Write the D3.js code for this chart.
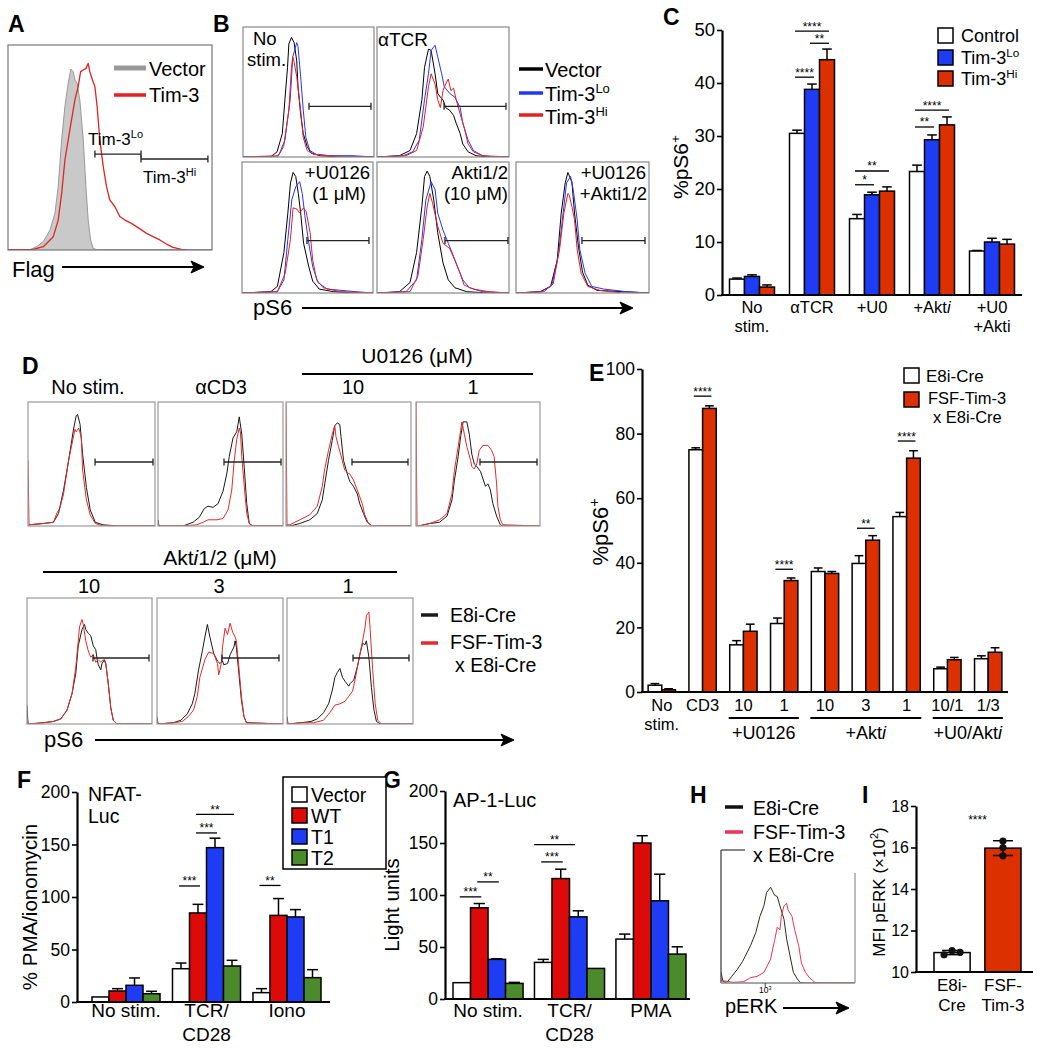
<!DOCTYPE html>
<html><head><meta charset="utf-8">
<script src="https://cdn.jsdelivr.net/npm/d3@7"></script>
<style>
body{margin:0;background:#fff}
svg{display:block}
text{font-family:"Liberation Sans",Arial,Helvetica,sans-serif;fill:#000}
</style></head><body>
<svg id="fig" width="1038" height="1050"></svg>
<script>
// ================= DATA =================
// Histograms: [channel position 0-100, relative count 0-100]
const histA_vector=[[0,0.2],[10.8,0.2],[14,1.6],[17.3,4.1],[20.6,9.8],[23,17.9],[24.6,30.9],[26.3,53.7],[27.9,70],[29.5,81.3],[30.8,88.3],[32,87],[32.8,82.9],[33.9,81.3],[35.2,73.2],[36.9,53.7],[38.2,30.9],[39.3,14.6],[40.5,4.9],[41.8,0.8],[43.4,0.2],[100,0.2]];
const histA_tim3=[[0,0.2],[12.4,0.3],[17.3,1.6],[22.2,6.5],[24.6,14.6],[26.3,27.6],[27.9,43.9],[30.3,58.5],[32.8,73.2],[34.4,79.7],[35.6,87],[36.9,87.8],[38.2,88.6],[39.3,91],[40.1,87],[41.4,82.9],[42.6,79.7],[43.7,69.9],[45,53.7],[46.7,40.7],[48.3,30.9],[49.9,24.4],[52.4,21.1],[54.8,16.3],[57.3,14.6],[60.5,13],[63,11.4],[65.4,9.8],[67.9,8.1],[71.1,6.5],[74.4,4.9],[77.7,2.9],[80.9,1.3],[85,0.3],[87.4,0]];
const gatesA=[[42.6,65.2,46.8],[65.2,98,44.4]];

const histB_vector=[
 [[0,0],[21,0],[26,4],[30,18],[32,44],[34,69],[35,87],[37,92],[39,88],[41,74],[42,54],[44,33],[46,18],[49,8],[52,3],[59,1],[74,0],[100,0]],
 [[0,0],[17,1],[25,5],[30,18],[34,44],[36,69],[39,83],[41,82],[44,64],[46,49],[48,46],[50,44],[52,38],[55,36],[58,32],[60,26],[63,18],[65,10],[69,4],[75,1],[85,0],[100,0]],
 [[0,0],[22,1],[27,5],[32,31],[35,61],[37,84],[39,92],[41,89],[43,76],[45,59],[47,38],[51,20],[54,9],[59,3],[70,1],[87,0],[100,0]],
 [[0,0],[17,1],[25,8],[30,31],[34,66],[36,89],[38,93],[40,89],[43,71],[46,46],[50,23],[54,10],[59,4],[68,1],[85,0],[100,0]],
 [[0,0],[18,1],[26,5],[31,25],[34,61],[37,84],[39,92],[42,85],[44,61],[47,35],[50,16],[54,6],[61,2],[81,1],[100,0]]];
const histB_lo=[
 [[0,0],[26,0],[28,3],[32,13],[36,44],[38,77],[41,88],[42,85],[44,62],[46,36],[48,15],[51,5],[56,2],[66,1],[84,1],[100,0]],
 [[0,0],[20,1],[27,4],[32,13],[36,44],[39,64],[41,82],[44,86],[46,77],[49,64],[51,54],[55,49],[59,46],[63,38],[65,26],[69,13],[73,5],[80,1],[90,0],[100,0]],
 [[0,0],[27,1],[32,10],[35,41],[38,71],[41,81],[44,85],[46,76],[48,59],[51,38],[54,20],[58,8],[65,3],[87,1],[100,0]],
 [[0,0],[22,1],[30,10],[34,41],[37,71],[41,85],[44,79],[46,61],[50,48],[54,38],[58,28],[61,20],[65,10],[70,4],[80,1],[100,0]],
 [[0,0],[19,1],[27,6],[32,30],[36,66],[38,84],[41,89],[43,79],[46,56],[48,33],[52,15],[57,5],[66,3],[83,1],[100,0]]];
const histB_hi=[
 [[0,0],[27,1],[31,8],[35,36],[37,69],[38,77],[39,73],[41,62],[44,36],[46,15],[49,5],[54,2],[66,1],[80,0],[100,0]],
 [[0,0],[22,1],[30,5],[35,23],[39,54],[41,64],[44,56],[46,44],[48,38],[50,51],[52,56],[54,60],[56,51],[58,53],[60,44],[63,33],[66,23],[69,10],[73,4],[80,1],[100,0]],
 [[0,0],[27,1],[33,15],[37,41],[39,65],[42,64],[44,61],[47,65],[49,62],[52,46],[54,25],[57,10],[62,4],[75,1],[100,0]],
 [[0,0],[25,1],[31,13],[35,41],[38,66],[40,76],[42,69],[46,51],[50,38],[55,34],[59,25],[63,15],[66,6],[73,3],[85,1],[100,0]],
 [[0,0],[21,1],[28,7],[33,35],[36,61],[39,76],[40,75],[42,66],[44,56],[46,33],[49,15],[54,5],[63,2],[80,0],[100,0]]];
const gatesB=[[50.4,97.7,39],[50.8,97.7,39],[49.6,96.9,40],[51.5,99.2,40],[49.6,97,40]];

const histD_e8i=[
 [[0,0],[1,1],[12,2],[20,3],[24,10],[28,29],[32,53],[34,66],[36,79],[38,89],[39,90],[41,82],[43,58],[46,31],[49,13],[53,3],[59,1],[70,0],[100,0]],
 [[0,5],[0.8,0],[20,0],[28,3],[33,7],[37,14],[40,16],[44,15],[48,18],[52,28],[55,42],[57,56],[60,71],[63,76],[65,88],[67,74],[69,47],[71,18],[73,2],[76,0],[100,0]],
 [[0,0],[3,0],[11,2],[19,5],[25,10],[29,21],[31,34],[34,53],[37,69],[39,81],[41,83],[43,82],[44,72],[46,53],[49,42],[51,36],[54,32],[57,26],[59,18],[62,10],[65,3],[69,0],[100,0]],
 [[0,0],[2,0],[11,2],[19,3],[25,8],[29,21],[31,37],[34,56],[36,72],[38,84],[41,84],[43,74],[45,58],[47,50],[49,48],[52,44],[54,38],[56,32],[58,34],[60,29],[62,18],[65,8],[68,1],[70,0],[100,0]],
 [[0,15],[0.8,0],[13,1],[21,2],[27,4],[32,11],[36,24],[39,40],[41,62],[44,75],[46,79],[47,75],[49,72],[51,70],[53,62],[55,59],[56,52],[57,47],[59,43],[60,48],[62,51],[63,48],[65,32],[67,13],[69,3],[72,0],[100,0]],
 [[0,6],[0.8,0],[13,1],[19,3],[24,8],[28,16],[30,24],[33,43],[36,58],[38,69],[40,79],[42,69],[45,56],[48,50],[50,48],[52,50],[53,47],[56,48],[58,55],[61,61],[62,66],[63,61],[65,40],[67,19],[69,6],[71,1],[100,0]],
 [[0,6],[0.8,0],[11,1],[19,2],[24,4],[29,9],[33,16],[36,27],[38,37],[40,41],[42,44],[44,37],[46,34],[49,30],[50,32],[52,34],[53,35],[56,46],[58,56],[60,64],[62,63],[63,66],[65,53],[67,29],[69,11],[71,2],[74,0],[100,0]]];
const histD_fsf=[
 [[0,53],[0.8,1],[12,2],[20,3],[23,11],[25,14],[28,26],[32,53],[34,63],[37,78],[38,76],[40,79],[42,71],[43,45],[46,21],[49,9],[53,2],[59,0],[100,0]],
 [[0,0],[20,0],[31,1],[36,3],[40,5],[47,5],[52,6],[56,13],[59,29],[61,53],[63,70],[65,79],[66,75],[67,56],[69,32],[71,10],[73,2],[76,0],[100,0]],
 [[0,100],[0.8,1],[3,1],[11,5],[19,9],[25,16],[29,32],[31,46],[34,61],[37,74],[39,81],[40,72],[42,64],[45,53],[47,45],[49,43],[51,42],[54,37],[57,29],[61,18],[63,9],[66,2],[69,0],[100,0]],
 [[0,100],[0.8,1],[2,0],[11,2],[19,5],[25,10],[29,26],[31,45],[34,64],[36,77],[37,84],[39,74],[41,64],[44,53],[45,48],[47,46],[49,50],[51,61],[54,65],[58,65],[61,61],[63,56],[65,34],[66,16],[68,5],[70,1],[100,0]],
 [[0,5],[0.8,0],[13,1],[21,2],[27,4],[32,11],[36,24],[39,45],[41,66],[42,77],[44,83],[45,79],[47,66],[49,58],[51,53],[53,55],[55,49],[57,51],[59,49],[61,51],[63,48],[65,32],[67,13],[69,3],[72,0],[100,0]],
 [[0,3],[0.8,0],[13,1],[20,2],[25,6],[29,11],[32,22],[34,37],[38,51],[41,57],[45,56],[48,48],[49,39],[51,48],[52,61],[54,76],[56,71],[58,80],[60,73],[62,69],[63,66],[65,45],[67,22],[69,6],[71,1],[100,0]],
 [[0,3],[0.8,0],[11,1],[21,1],[29,3],[34,9],[38,15],[42,16],[46,18],[49,22],[52,26],[54,35],[57,51],[59,61],[60,66],[62,77],[63,86],[65,89],[66,75],[68,43],[70,16],[72,3],[75,0],[100,0]]];
const gatesD=[[52.8,98.4,51.6],[52.8,98.4,51.6],[52.8,97.6,51.6],[51.6,97.6,51.6],[52.8,97.6,52.4],[51.6,96.8,52.4],[52.4,96.8,52.4]];
const titlesD=["No stim.","αCD3","10","1","10","3","1"];

const histH_e8i=[[0,8],[1.5,1],[4.5,0.5],[8,5],[12,10],[16,16],[18,20],[22,28],[26,38],[29,50],[32,58],[34,68],[37,72],[39,68],[40,66],[42,65],[44,58],[47,48],[49,33],[52,18],[54,8],[57,3],[59,0.5],[63,0],[100,0]];
const histH_fsf=[[0,2],[9,0.5],[17,1],[22,4],[27,5],[32,8],[37,18],[40,32],[42,42],[44,40],[45,50],[47,58],[49,60],[50,55],[53,50],[55,40],[58,28],[60,15],[63,8],[66,4],[70,0.5],[76,0],[100,0]];
const tickH=[33];

// Panel C
const catC=["No\nstim.","αTCR","+U0","+Akt~i~","+U0\n+Akti"];
const seriesC=["Control","Tim-3^{Lo}","Tim-3^{Hi}"];
const meanC=[[3.0,3.5,1.5],[30.5,38.8,44.4],[14.4,18.9,19.6],[23.3,29.3,32.1],[8.3,10.0,9.6]];
const semC=[[0.2,0.3,0.4],[0.6,1.0,2.0],[0.8,0.5,0.8],[1.2,0.9,1.5],[0.1,0.7,0.9]];
const sigC=[[1,0,1,41.1,"****"],[1,1,2,47.5,"**"],[1,0,2,49.8,"****"],[2,0,1,20.8,"*"],[2,0,2,23.4,"**"],[3,0,1,31.7,"**"],[3,0,2,34.9,"****"]];
const yTicksC=[0,10,20,30,40,50];

// Panel E
const catE=["No\nstim.","CD3","10","1","10","3","1","10/1","1/3"];
const seriesE=["E8i-Cre","FSF-Tim-3","x E8i-Cre"];
const meanE=[[2.1,0.7],[75.0,87.8],[14.6,18.8],[21.2,34.5],[37.3,36.7],[39.8,47.0],[54.3,72.4],[7.2,10.0],[10.3,12.3]];
const semE=[[0.5,0.3],[0.6,0.8],[1.3,2.2],[1.7,0.8],[1.1,0.6],[2.4,1.4],[1.3,2.3],[0.5,0.7],[0.9,1.4]];
const sigE=[[1,0,1,91.6,"****"],[3,0,1,38.0,"****"],[5,0,1,50.7,"**"],[6,0,1,77.7,"****"]];
const groupE=[["+U0126",2,3],["+Akt~i~",4,6],["+U0/Akt~i~",7,8]];
const yTicksE=[0,20,40,60,80,100];

// Panel F
const catF=["No stim.","TCR/\nCD28","Iono"];
const seriesFG=["Vector","WT","T1","T2"];
const meanF=[[4.8,10.5,15.9,7.9],[31.7,84.8,147,34.3],[8.9,82.5,81,23.2]];
const semF=[[0,2.2,7.0,2.3],[5.4,8.2,9,5.4],[3.8,16,7,7.6]];
const sigF=[[1,0,1,110.5,"***"],[1,1,2,161,"***"],[1,1,3,178.7,"**"],[2,0,1,111,"**"]];
const yTicksFG=[0,50,100,150,200];

// Panel G
const catG=["No stim.","TCR/\nCD28","PMA"];
const meanG=[[15.7,87.7,38.1,15.0],[35.2,115.8,79.0,29.4],[57.6,150,94.4,43.2]];
const semG=[[0,4.1,0.6,1.0],[2.9,9.0,5.8,0],[4.8,7,25.6,7.0]];
const sigG=[[0,0,1,98.2,"***"],[0,1,2,112.6,"**"],[1,0,1,131.8,"***"],[1,-0.4,1.7,148.5,"**"]];

// Panel I
const catI=["E8i-\nCre","FSF-\nTim-3"];
const ptsI=[[10.83,11.03,10.95],[16.31,16.0,15.6]];
const yTicksI=[10,12,14,16,18];

// ================= DRAWING =================
const svg=d3.select("#fig");
svg.append("rect").attr("width",1038).attr("height",1050).attr("fill","#fff");
let clipN=0;
const BLUE="#1f3cf5", ORED="#dc3000", RED="#dd0a0a", GREEN="#4b8b2b";

function addText(g,x,y,str,o={}){
  const size=o.size||18, lh=o.lineH||size*1.2;
  const lines=str.split("\n");
  lines.forEach((line,li)=>{
    const t=g.append("text").attr("x",x).attr("y",y+li*lh).attr("font-size",size).attr("text-anchor",o.anchor||"start");
    if(o.weight) t.attr("font-weight",o.weight);
    if(o.transform) t.attr("transform",o.transform);
    const parts=line.split(/(\^\{[^}]*\}|~[^~]*~)/).filter(p=>p!=="");
    let raised=0;
    parts.forEach(p=>{
      const sp=t.append("tspan");
      if(p.startsWith("^{")){sp.text(p.slice(2,-1)).attr("font-size",size*0.65).attr("dy",-size*0.4);raised+=size*0.4;}
      else{ if(raised){sp.attr("dy",raised);raised=0;}
        if(p.startsWith("~")) sp.text(p.slice(1,-1)).attr("font-style","italic"); else sp.text(p);}
    });
  });
}
function hline(g,x1,x2,y,w,c){g.append("line").attr("x1",x1).attr("x2",x2).attr("y1",y).attr("y2",y).attr("stroke",c||"#000").attr("stroke-width",w||1.5);}
function vline(g,x,y1,y2,w,c){g.append("line").attr("x1",x).attr("x2",x).attr("y1",y1).attr("y2",y2).attr("stroke",c||"#000").attr("stroke-width",w||1.5);}
function arrowLine(x1,x2,y){
  hline(svg,x1,x2-6,y,2.2);
  svg.append("path").attr("d",`M${x2},${y}L${x2-13},${y-6}L${x2-10},${y}L${x2-13},${y+6}Z`).attr("fill","#000").attr("stroke","#000").attr("stroke-width",1);
}
function histPanel(box,curves,frameColor){
  const xs=d3.scaleLinear().domain([0,100]).range([box.x,box.x+box.w]);
  const ys=d3.scaleLinear().domain([0,100]).range([box.y+box.h,box.y]);
  const id="clip"+(clipN++);
  svg.append("clipPath").attr("id",id).append("rect").attr("x",box.x).attr("y",box.y-1).attr("width",box.w).attr("height",box.h+1);
  const g=svg.append("g");
  const gc=g.append("g").attr("clip-path",`url(#${id})`);
  curves.forEach(c=>{
    if(c.fill){
      const area=d3.area().x(d=>xs(d[0])).y0(ys(0)).y1(d=>ys(d[1]));
      gc.append("path").attr("d",area(c.pts)).attr("fill",c.fill);
    }
    const line=d3.line().x(d=>xs(d[0])).y(d=>ys(d[1]));
    gc.append("path").attr("d",line(c.pts)).attr("fill","none").attr("stroke",c.color).attr("stroke-width",c.w||1).attr("stroke-linejoin","round");
  });
  if(frameColor) g.append("rect").attr("x",box.x).attr("y",box.y).attr("width",box.w).attr("height",box.h).attr("fill","none").attr("stroke",frameColor).attr("stroke-width",1.2);
  return {xs,ys,g};
}
function gate(p,gt){
  const y=p.ys(gt[2]),x1=p.xs(gt[0]),x2=p.xs(gt[1]);
  hline(p.g,x1,x2,y,1.3,"#222");
  vline(p.g,x1,y-3.5,y+3.5,1.3,"#222");vline(p.g,x2,y-3.5,y+3.5,1.3,"#222");
}
function barChart(c){
  const g=svg.append("g");
  const y=d3.scaleLinear().domain(c.yDomain).range([c.yBottom,c.yTop]);
  const xb=d3.scaleBand().domain(d3.range(c.means.length)).range(c.bandRange).paddingInner(c.padIn).paddingOuter(c.padOut||0);
  const xs=d3.scaleBand().domain(d3.range(c.means[0].length)).range([0,xb.bandwidth()]);
  const bw=xs.bandwidth();
  c.means.forEach((grp,gi)=>grp.forEach((v,si)=>{
    const x=xb(gi)+xs(si), cx=x+bw/2, e=c.errs[gi][si];
    if(e>0){vline(g,cx,y(v),y(v+e),1.5);hline(g,cx-bw*0.32,cx+bw*0.32,y(v+e),1.5);}
    g.append("rect").attr("x",x).attr("y",y(v)).attr("width",bw).attr("height",c.yBottom-y(v))
      .attr("fill",c.colors[si]).attr("stroke","#000").attr("stroke-width",1.5);
  }));
  const ax=g.append("g").attr("transform",`translate(${c.axisX},0)`)
    .call(d3.axisLeft(y).tickValues(c.yTicks).tickSize(5).tickSizeOuter(0).tickPadding(2));
  ax.select(".domain").attr("stroke-width",2.2);
  ax.selectAll(".tick line").attr("stroke-width",1.6);
  ax.selectAll(".tick text").attr("font-size",c.tickFont);
  hline(g,c.axisX-1,c.axisXEnd,c.yBottom,2.2);
  c.cats.forEach((lab,gi)=>addText(g,xb(gi)+xb.bandwidth()/2,c.labelY,lab,{anchor:"middle",size:c.labelSize,lineH:c.lineH}));
  (c.sig||[]).forEach(s=>{
    const x1=xb(s[0])+xs.step()*(s[1]+0.5)-2, x2=xb(s[0])+xs.step()*(s[2]+0.5)+2, yy=y(s[3]);
    hline(g,x1,x2,yy,1.3);
    addText(g,(x1+x2)/2,yy-0.5,s[4],{anchor:"middle",size:12});
  });
  return {y,xb,xs,g};
}
function square(x,y,c){svg.append("rect").attr("x",x).attr("y",y).attr("width",15).attr("height",15).attr("fill",c).attr("stroke","#000").attr("stroke-width",1.5);}

// ---- panel letters ----
[["A",8,32],["B",213,32],["C",663,25],["D",22,374],["E",589,381],["F",17,788],["G",383,788],["H",690,803],["I",862,803]]
  .forEach(d=>addText(svg,d[1],d[2],d[0],{size:23,weight:"bold"}));

// ---- A ----
const pA=histPanel({x:8,y:45,w:204,h:205},[{pts:histA_vector,color:"#999",fill:"#c9c9c9",w:1},{pts:histA_tim3,color:"#e32222",w:1.3}],"#777");
gatesA.forEach(gt=>gate(pA,gt));
hline(svg,114,146,68,5,"#999");hline(svg,114,146,95,3.5,"#e32222");
addText(svg,149,76,"Vector",{size:20});addText(svg,149,102,"Tim-3",{size:20});
addText(svg,88,145,"Tim-3^{Lo}",{size:17});addText(svg,143,183,"Tim-3^{Hi}",{size:17});
addText(svg,12,277,"Flag",{size:22});arrowLine(62,204,267);

// ---- B ----
const boxesB=[{x:243,y:27,w:131,h:130},{x:377,y:27,w:132,h:130},{x:242,y:162,w:131,h:131},{x:377,y:162,w:132,h:131},{x:516,y:162,w:133,h:131}];
boxesB.forEach((b,i)=>{
  const p=histPanel(b,[{pts:histB_vector[i],color:"#000"},{pts:histB_lo[i],color:"#2236ff"},{pts:histB_hi[i],color:"#e42020"}],"#888");
  gate(p,gatesB[i]);
});
addText(svg,253,45,"No",{size:18.5});addText(svg,247,66,"stim.",{size:18.5});
addText(svg,378,46,"αTCR",{size:19});
addText(svg,370,179,"+U0126",{size:18.5,anchor:"end"});addText(svg,366,200,"(1 μM)",{size:18.5,anchor:"end"});
addText(svg,508,179,"Akti1/2",{size:18.5,anchor:"end"});addText(svg,508,200,"(10 μM)",{size:18.5,anchor:"end"});
addText(svg,646,179,"+U0126",{size:18.5,anchor:"end"});addText(svg,647,200,"+Akti1/2",{size:18.5,anchor:"end"});
hline(svg,519,543,69,3.5,"#000");hline(svg,519,543,93,3.5,"#2236ff");hline(svg,519,543,115,3.5,"#e42020");
addText(svg,545,77,"Vector",{size:20});addText(svg,545,101,"Tim-3^{Lo}",{size:20});addText(svg,545,124,"Tim-3^{Hi}",{size:20});
addText(svg,253,315,"pS6",{size:22});arrowLine(302,633,308);

// ---- C ----
barChart({means:meanC,errs:semC,colors:["#fff",BLUE,ORED],yDomain:[0,50],yBottom:295,yTop:30,yTicks:yTicksC,
  axisX:722,axisXEnd:1022,bandRange:[722,1022],padIn:0.25,padOut:0.125,tickFont:18.5,
  cats:catC,labelY:313,lineH:18.5,labelSize:16.5,sig:sigC});
addText(svg,0,0,"%pS6^{+}",{size:21,anchor:"middle",transform:"translate(688,167) rotate(-90)"});
[["#fff",28],[BLUE,50],[ORED,71]].forEach((d,i)=>{square(938,d[1],d[0]);addText(svg,961,d[1]+14,seriesC[i],{size:18});});

// ---- D ----
const boxesD=[{x:28,y:402,w:127,h:124},{x:158,y:402,w:125,h:124},{x:286,y:402,w:125,h:124},{x:416,y:402,w:124,h:124},
  {x:27,y:598,w:125,h:126},{x:157,y:598,w:126,h:126},{x:287,y:598,w:126,h:126}];
boxesD.forEach((b,i)=>{
  const p=histPanel(b,[{pts:histD_e8i[i],color:"#1a1a1a"},{pts:histD_fsf[i],color:"#e62a2a"}],"#999");
  gate(p,gatesD[i]);
});
[[88,394],[221,394],[353,394],[473,394],[89,593],[219,593],[348,593]].forEach((d,i)=>addText(svg,d[0],d[1],titlesD[i],{size:20,anchor:"middle"}));
addText(svg,417,363,"U0126 (μM)",{size:21,anchor:"middle"});hline(svg,302,533,374,2);
addText(svg,220,565,"Akt~i~1/2 (μM)",{size:21,anchor:"middle"});hline(svg,43,397,572,2);
hline(svg,421,438,615,3.5,"#1a1a1a");hline(svg,421,438,643,3.5,"#e62a2a");
addText(svg,450,622,"E8i-Cre",{size:19.5});addText(svg,450,649,"FSF-Tim-3",{size:19.5});addText(svg,455,672,"x E8i-Cre",{size:19.5});
addText(svg,44,747,"pS6",{size:22});arrowLine(95,514,740);

// ---- E ----
const cE=barChart({means:meanE,errs:semE,colors:["#fff",ORED],yDomain:[0,100],yBottom:692,yTop:369,yTicks:yTicksE,
  axisX:642,axisXEnd:1008,bandRange:[642,1008],padIn:0.33,padOut:0.15,tickFont:17.5,
  cats:catE,labelY:711,lineH:18.5,labelSize:16.5,sig:sigE});
groupE.forEach(gp=>{
  const x1=cE.xb(gp[1])-1,x2=cE.xb(gp[2])+cE.xb.bandwidth()+1;
  hline(svg,x1,x2,718,1.8);addText(svg,(x1+x2)/2,739,gp[0],{size:18,anchor:"middle"});
});
addText(svg,0,0,"%pS6^{+}",{size:22,anchor:"middle",transform:"translate(608,532) rotate(-90)"});
square(904,368,"#fff");square(904,392,ORED);
addText(svg,926,382,seriesE[0],{size:17});addText(svg,928,404,seriesE[1],{size:16.5});addText(svg,933,423,seriesE[2],{size:16.5});

// ---- F ----
barChart({means:meanF,errs:semF,colors:["#fff",RED,BLUE,GREEN],yDomain:[0,200],yBottom:1002,yTop:792,yTicks:yTicksFG,
  axisX:77,axisXEnd:330,bandRange:[92,321],padIn:0.155,tickFont:17.5,
  cats:catF,labelY:1017,lineH:24,labelSize:19,sig:sigF});
addText(svg,0,0,"% PMA/ionomycin",{size:20.5,anchor:"middle",transform:"translate(37,907) rotate(-90)"});
addText(svg,88,801,"NFAT-",{size:19.5});addText(svg,88,823,"Luc",{size:19.5});
svg.append("rect").attr("x",283).attr("y",777).attr("width",103).attr("height",92).attr("fill","#fff").attr("stroke","#000").attr("stroke-width",1.5);
["#fff",RED,BLUE,GREEN].forEach((c,i)=>{square(292,787+i*21,c);addText(svg,311,802+i*21,seriesFG[i],{size:19.5});});

// ---- G ----
barChart({means:meanG,errs:semG,colors:["#fff",RED,BLUE,GREEN],yDomain:[0,200],yBottom:999,yTop:791,yTicks:yTicksFG,
  axisX:445,axisXEnd:690,bandRange:[453,686],padIn:0.14,tickFont:17.5,
  cats:catG,labelY:1017,lineH:24,labelSize:19,sig:sigG});
addText(svg,0,0,"Light units",{size:20.5,anchor:"middle",transform:"translate(399,905) rotate(-90)"});
addText(svg,453,807,"AP-1-Luc",{size:20});

// ---- H ----
const pH=histPanel({x:721,y:850,w:134,h:133},[{pts:histH_e8i,color:"#2b2b1e"},{pts:histH_fsf,color:"#ee3355"}],null);
vline(svg,721,850,983,1.3,"#444");hline(svg,721,855,983,1.3,"#888");vline(svg,855,873,983,1.3,"#999");hline(svg,721,745,850,1.3,"#444");
tickH.forEach(t=>{vline(svg,pH.xs(t),983,987,1,"#444");addText(svg,pH.xs(t),993,"10^{3}",{size:8.5,anchor:"middle"});});
hline(svg,725,743,807,3.5,"#111");hline(svg,725,743,832,3.5,"#ee3355");
addText(svg,753,815,"E8i-Cre",{size:19.5});addText(svg,753,839,"FSF-Tim-3",{size:19.5});addText(svg,753,862,"x E8i-Cre",{size:19.5});
addText(svg,725,1013,"pERK",{size:20});arrowLine(783,849,1008);

// ---- I ----
(function(){
  const g=svg.append("g");
  const y=d3.scaleLinear().domain([10,18]).range([972,806]);
  const xb=d3.scaleBand().domain([0,1]).range([934,1021]).paddingInner(0.29);
  const bw=xb.bandwidth();
  ptsI.forEach((pts,i)=>{
    const m=d3.mean(pts),sd=d3.deviation(pts),x=xb(i),cx=x+bw/2;
    g.append("rect").attr("x",x).attr("y",y(m)).attr("width",bw).attr("height",972-y(m)).attr("fill",i?ORED:"#fff").attr("stroke","#000").attr("stroke-width",1.5);
    vline(g,cx,y(m+sd),y(m-sd),1.5);hline(g,cx-10,cx+10,y(m+sd),1.5);hline(g,cx-10,cx+10,y(m-sd),1.5);
    const spread=(d3.max(pts)-d3.min(pts))<0.3;
    pts.forEach((v,j)=>g.append("circle").attr("cx",cx+(spread?(j-1)*8:0)).attr("cy",y(v)).attr("r",3.6).attr("fill","#111"));
  });
  const ax=g.append("g").attr("transform","translate(916,0)").call(d3.axisLeft(y).tickValues(yTicksI).tickSize(5).tickSizeOuter(0).tickPadding(2));
  ax.select(".domain").attr("stroke-width",2.2);ax.selectAll(".tick line").attr("stroke-width",1.6);ax.selectAll(".tick text").attr("font-size",16);
  hline(g,915,1033,972,2.2);
  catI.forEach((lab,i)=>addText(g,xb(i)+bw/2,991,lab,{size:17,anchor:"middle",lineH:19.5}));
  addText(g,(xb(0)+xb(1)+bw)/2,824,"****",{size:12,anchor:"middle"});
  addText(svg,0,0,"MFI pERK (×10^{2})",{size:17,anchor:"middle",transform:"translate(885,892) rotate(-90)"});
})();
</script></body></html>
